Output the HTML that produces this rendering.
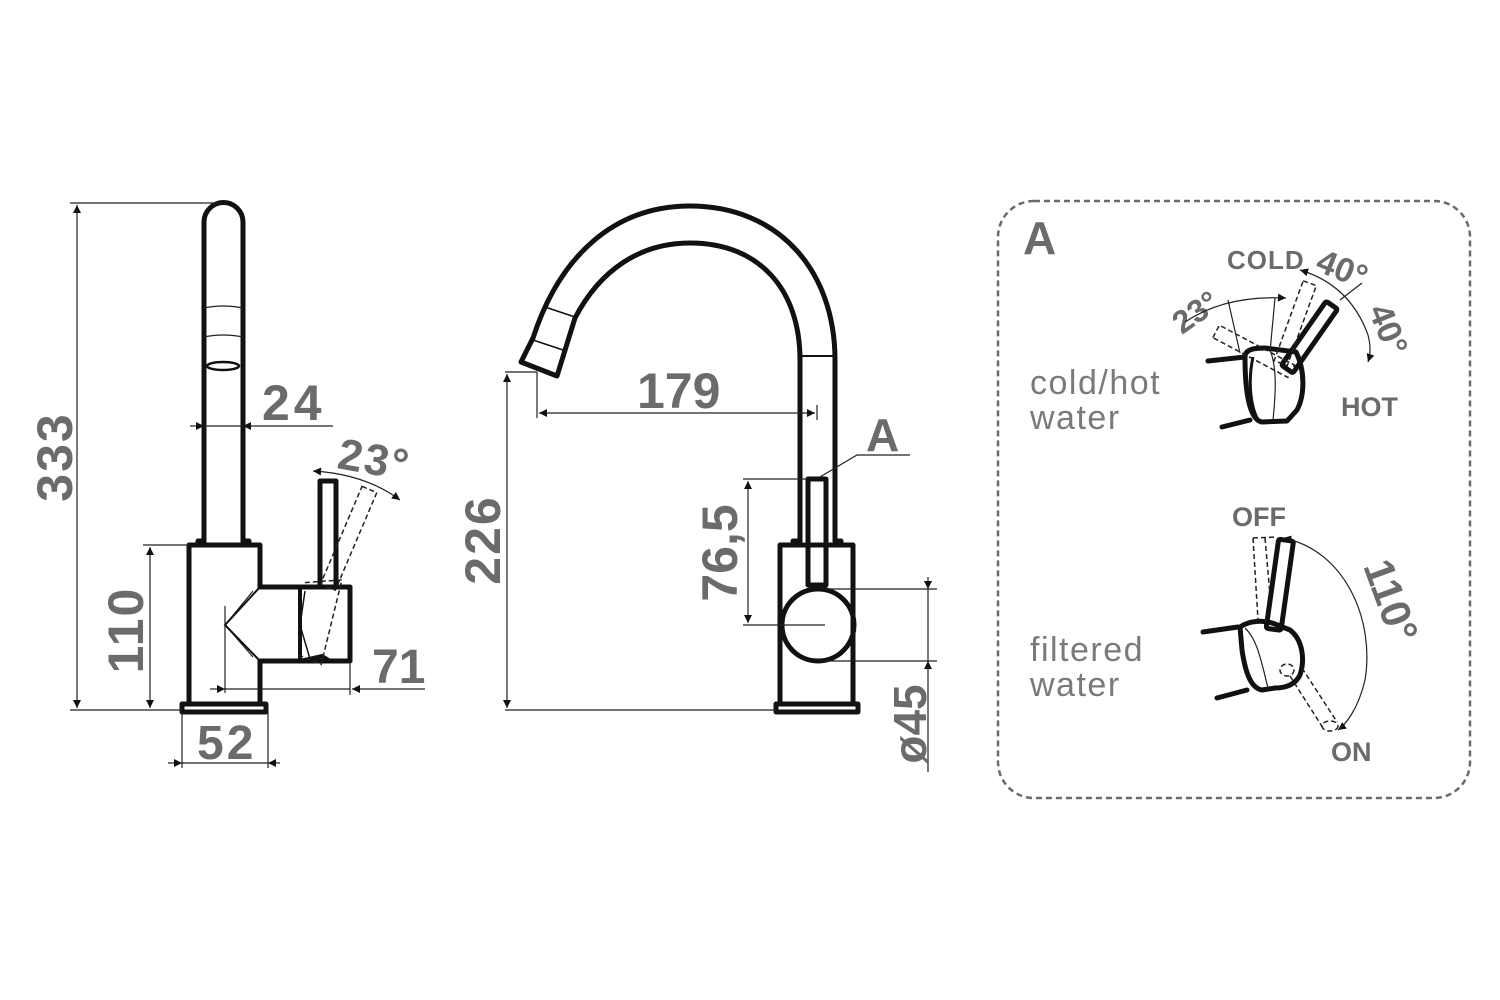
<!DOCTYPE html>
<html><head><meta charset="utf-8"><style>
html,body{margin:0;padding:0;background:#fff;width:1500px;height:1000px;overflow:hidden}
svg{display:block}
.t{font-family:"Liberation Sans",sans-serif;font-weight:bold;fill:#6b6b6b}
.l{font-family:"Liberation Sans",sans-serif;fill:#7a7a7a}
.k{fill:none;stroke:#111;stroke-width:5;stroke-linejoin:round;stroke-linecap:round}
.th{fill:none;stroke:#222;stroke-width:1.2}
.d{fill:none;stroke:#222;stroke-width:1.5;stroke-dasharray:5 3}
</style></head><body>
<svg width="1500" height="1000" viewBox="0 0 1500 1000" xmlns="http://www.w3.org/2000/svg">
<defs>
<marker id="a" viewBox="0 0 10 10" refX="10" refY="5" markerWidth="12" markerHeight="8" orient="auto-start-reverse" markerUnits="userSpaceOnUse"><path d="M0,0 L10,5 L0,10 z" fill="#111"/></marker>
</defs>

<!-- ========== LEFT FAUCET ========== -->
<path class="k" d="M204,543 L204,222 A19.5,19.5 0 0 1 243,222 L243,543"/>
<path class="th" d="M204,308 Q223,304 243,308 M204,337 Q223,333 243,337" stroke-width="1.5"/>
<ellipse cx="223" cy="366" rx="16" ry="4" fill="none" stroke="#111" stroke-width="2.5"/>
<path class="k" d="M198,545 L198,541 L204,541 M243,541 L249,541 L249,545"/>
<path class="k" d="M189,545 L260,545 L260,587 L350,587 L350,661 L260,661 L260,704 L189,704 Z"/>
<rect x="182" y="704" width="84" height="8" class="k"/>
<rect x="320" y="481" width="16" height="106" class="k"/>
<path d="M260,587 L225,625 L260,661" fill="none" stroke="#111" stroke-width="2"/>
<path d="M253,591 L225,625 L253,657" fill="none" stroke="#111" stroke-width="1"/>
<line x1="300" y1="587" x2="300" y2="661" stroke="#111" stroke-width="4"/>
<path d="M305,591 L300,625 L310,659 L322,661" fill="none" stroke="#111" stroke-width="1.5"/>
<path d="M300,661 L322,656 L330,661" fill="none" stroke="#111" stroke-width="4"/>
<g transform="rotate(23 328 587)">
<rect x="320" y="481" width="16" height="106" class="d"/>
<path class="d" d="M305,592 L338,575 L352,661 L325,661"/>
</g>
<line x1="225" y1="606" x2="225" y2="693" class="th"/>
<!-- 333 -->
<line x1="70" y1="203" x2="222" y2="203" class="th"/>
<line x1="70" y1="710" x2="182" y2="710" class="th"/>
<line x1="77" y1="205" x2="77" y2="708" class="th" marker-start="url(#a)" marker-end="url(#a)"/>
<text class="t" font-size="50" letter-spacing="2" transform="translate(72,457) rotate(-90)" text-anchor="middle">333</text>
<!-- 110 -->
<line x1="143" y1="545" x2="189" y2="545" class="th"/>
<line x1="150" y1="547" x2="150" y2="708" class="th" marker-start="url(#a)" marker-end="url(#a)"/>
<text class="t" font-size="50" letter-spacing="2" transform="translate(143,630) rotate(-90)" text-anchor="middle">110</text>
<!-- 24 -->
<line x1="190" y1="426" x2="204" y2="426" class="th" marker-end="url(#a)"/>
<line x1="333" y1="426" x2="243" y2="426" class="th" marker-end="url(#a)"/>
<line x1="204" y1="426" x2="243" y2="426" class="th"/>
<text class="t" font-size="50" letter-spacing="4" x="262" y="420">24</text>
<!-- 23 deg -->
<path d="M313,471 Q365,474 400,500" class="th" marker-start="url(#a)" marker-end="url(#a)"/>
<text class="t" font-size="44" letter-spacing="2" transform="translate(336,468) rotate(10)">23°</text>
<!-- 71 -->
<line x1="210" y1="689" x2="225" y2="689" class="th" marker-end="url(#a)"/>
<line x1="225" y1="689" x2="350" y2="689" class="th"/>
<line x1="425" y1="689" x2="352" y2="689" class="th" marker-end="url(#a)"/>
<line x1="350" y1="661" x2="350" y2="695" class="th"/>
<text class="t" font-size="48" x="372" y="683">71</text>
<!-- 52 -->
<line x1="182" y1="712" x2="182" y2="768" class="th"/>
<line x1="268" y1="712" x2="268" y2="768" class="th"/>
<line x1="168" y1="763" x2="182" y2="763" class="th" marker-end="url(#a)"/>
<line x1="182" y1="763" x2="268" y2="763" class="th"/>
<line x1="280" y1="763" x2="268" y2="763" class="th" marker-end="url(#a)"/>
<text class="t" font-size="48" letter-spacing="3" x="197" y="759">52</text>

<!-- ========== MIDDLE FAUCET ========== -->
<path class="k" d="M533,338 C560,255 615,206 690,206 C778,206 835,270 835,360 L835,541"/>
<path class="k" d="M575,318 C600,270 640,243 690,243 C760,243 800,290 800,360 L800,541"/>
<line x1="800" y1="356" x2="835" y2="356" stroke="#111" stroke-width="2"/>
<path class="k" d="M533,338 L521,362 L557,376 L575,318"/>
<line x1="545" y1="307" x2="575" y2="317" stroke="#111" stroke-width="1.5"/>
<line x1="533" y1="340" x2="563" y2="350" stroke="#111" stroke-width="1.5"/>
<path class="k" d="M793,545 L793,541 L800,541 M835,541 L841,541 L841,545"/>
<rect x="780" y="545" width="73" height="159" class="k"/>
<rect x="776" y="704" width="82" height="8" class="k"/>
<rect x="808" y="479" width="18" height="106" class="k" fill="#fff"/>
<circle cx="818" cy="625" r="36" class="k" fill="#fff"/>
<line x1="743" y1="625" x2="825" y2="625" class="th"/>
<!-- 179 -->
<line x1="537" y1="372" x2="537" y2="418" class="th"/>
<line x1="817" y1="405" x2="817" y2="420" class="th"/>
<line x1="539" y1="413" x2="815" y2="413" class="th" marker-start="url(#a)" marker-end="url(#a)"/>
<text class="t" font-size="50" x="637" y="408">179</text>
<!-- 226 -->
<line x1="505" y1="372" x2="537" y2="372" class="th"/>
<line x1="505" y1="710" x2="776" y2="710" class="th"/>
<line x1="507" y1="374" x2="507" y2="708" class="th" marker-start="url(#a)" marker-end="url(#a)"/>
<text class="t" font-size="50" letter-spacing="2" transform="translate(500,540) rotate(-90)" text-anchor="middle">226</text>
<!-- 76,5 -->
<line x1="743" y1="479" x2="808" y2="479" class="th"/>
<line x1="748" y1="481" x2="748" y2="623" class="th" marker-start="url(#a)" marker-end="url(#a)"/>
<text class="t" font-size="50" transform="translate(737,553) rotate(-90)" text-anchor="middle">76,5</text>
<path d="M820,477 L857,455 L910,455" class="th"/>
<text class="t" font-size="46" x="866" y="451">A</text>
<!-- ø45 -->
<line x1="825" y1="589" x2="937" y2="589" class="th"/>
<line x1="825" y1="661" x2="937" y2="661" class="th"/>
<line x1="928" y1="577" x2="928" y2="589" class="th" marker-end="url(#a)"/>
<line x1="928" y1="589" x2="928" y2="661" class="th"/>
<line x1="928" y1="772" x2="928" y2="661" class="th" marker-end="url(#a)"/>
<text class="t" font-size="46" transform="translate(926,724) rotate(-90)" text-anchor="middle">ø45</text>

<!-- ========== PANEL A ========== -->
<rect x="998" y="201" width="472" height="597" rx="36" fill="none" stroke="#6b6b6b" stroke-width="2.5" stroke-dasharray="6 4"/>
<text class="t" font-size="46" x="1023" y="254">A</text>
<text class="t" font-size="26" letter-spacing="1" x="1227" y="269">COLD</text>
<text class="t" font-size="34" transform="translate(1314,270) rotate(22)">40°</text>
<text class="t" font-size="34" transform="translate(1368,310) rotate(68)">40°</text>
<text class="t" font-size="32" transform="translate(1182,335) rotate(-35)">23°</text>
<text class="t" font-size="27" x="1341" y="416">HOT</text>
<text class="l" font-size="34" letter-spacing="1.5" x="1030" y="394">cold/hot</text>
<text class="l" font-size="34" letter-spacing="1.5" x="1030" y="429">water</text>
<!-- top handle -->
<path class="k" d="M1208,361 L1245,357 M1222,427 L1250,420" stroke-width="4"/>
<path class="k" stroke-width="4" d="M1245,357 C1245,349 1255,348 1265,348 L1296,352 C1305,370 1305,395 1297,410 L1287,421 L1262,422 C1250,420 1245,395 1245,357 Z"/>
<path class="th" d="M1270,350 C1278,370 1275,400 1273,420"/>
<path d="M1253,357 C1248,380 1250,405 1258,420" fill="none" stroke="#111" stroke-width="3"/>
<g transform="rotate(35 1290 365)">
<rect x="1283" y="292" width="14" height="78" rx="2" class="k" fill="#fff" stroke-width="4.5"/>
</g>
<g transform="rotate(20 1280 365)"><rect x="1273" y="278" width="14" height="85" class="d"/></g>
<g transform="rotate(-62 1285 368)"><rect x="1278" y="290" width="14" height="85" class="d"/></g>
<line x1="1240" y1="353" x2="1228" y2="300" class="th"/>
<line x1="1270" y1="352" x2="1275" y2="298" class="th"/>
<path d="M1185,322 Q1225,295 1286,298" class="th" marker-end="url(#a)"/>
<path d="M1300,270 Q1350,285 1368,335 Q1372,350 1368,362" class="th" marker-start="url(#a)" marker-end="url(#a)"/>
<line x1="1340" y1="300" x2="1362" y2="283" class="th"/>
<!-- bottom handle -->
<text class="t" font-size="27" x="1232" y="526">OFF</text>
<text class="t" font-size="27" x="1331" y="761">ON</text>
<text class="t" font-size="42" transform="translate(1363,566) rotate(70)">110°</text>
<text class="l" font-size="34" letter-spacing="1.5" x="1030" y="661">filtered</text>
<text class="l" font-size="34" letter-spacing="1.5" x="1030" y="696">water</text>
<path class="k" stroke-width="4" d="M1203,632 L1238,627 M1217,698 L1247,690"/>
<path class="k" stroke-width="4" d="M1240,627 C1250,620 1265,620 1275,624 L1290,630 C1303,640 1305,660 1300,675 C1295,685 1285,688 1275,688 L1262,690 C1250,688 1245,670 1242,650 Z"/>
<path class="th" d="M1245,628 C1258,640 1262,665 1268,688"/>
<g transform="rotate(8 1282 580)"><rect x="1273" y="540" width="15" height="90" rx="2" class="k" fill="#fff" stroke-width="4.5"/></g>
<path class="d" d="M1253,538 L1258,620 M1265,538 L1270,595 M1253,538 L1277,537"/>
<ellipse cx="1287" cy="670" rx="7" ry="6" class="d"/>
<path class="d" d="M1290,676 L1323,728 M1302,668 L1337,722"/>
<ellipse cx="1330" cy="726" rx="8" ry="5" class="d"/>
<path d="M1283,538 C1345,550 1375,620 1365,680 C1358,710 1345,725 1338,730" class="th" marker-start="url(#a)" marker-end="url(#a)"/>
</svg>
</body></html>
